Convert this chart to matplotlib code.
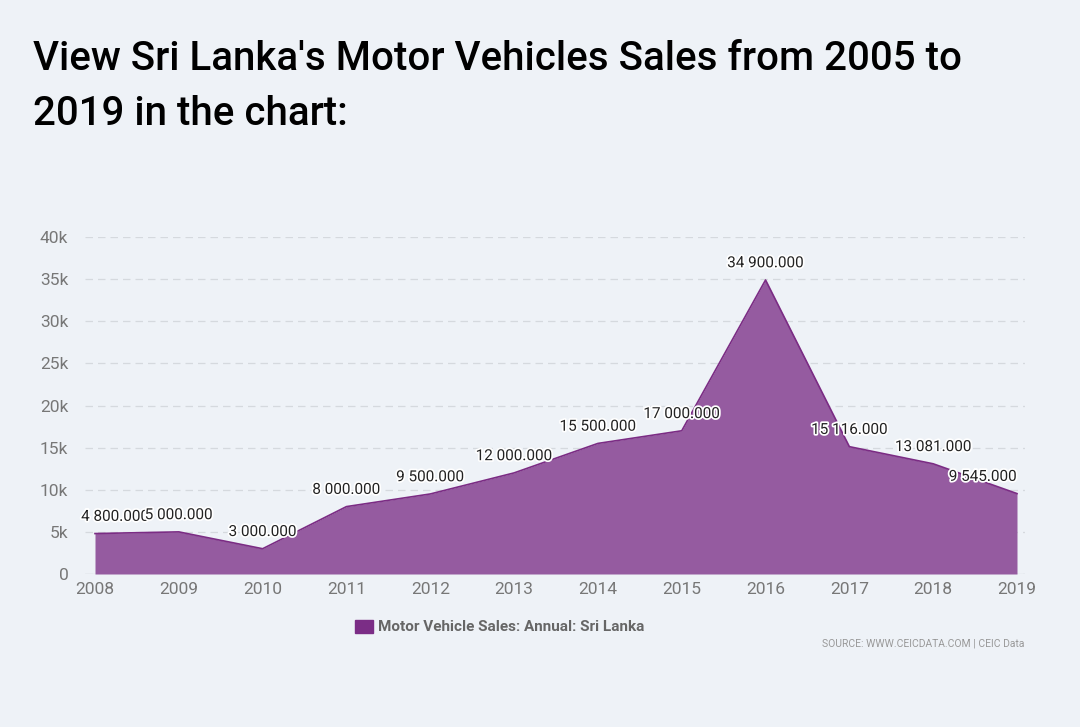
import matplotlib
matplotlib.use("Agg")
import matplotlib.pyplot as plt
import matplotlib.patheffects as pe
import numpy as np

plt.rcParams['font.family'] = ['Roboto', 'DejaVu Sans']

# data
years = [2008, 2009, 2010, 2011, 2012, 2013, 2014, 2015, 2016, 2017, 2018, 2019]
sales = [4800, 5000, 3000, 8000, 9500, 12000, 15500, 17000, 34900, 15116, 13081, 9545]
labels = ['4 800.000', '5 000.000', '3 000.000', '8 000.000', '9 500.000', '12 000.000',
          '15 500.000', '17 000.000', '34 900.000', '15 116.000', '13 081.000', '9 545.000']
yticks = [0, 5000, 10000, 15000, 20000, 25000, 30000, 35000, 40000]
ytick_labels = ['0', '5k', '10k', '15k', '20k', '25k', '30k', '35k', '40k']

bg = '#eef2f7'
fig = plt.figure(figsize=(10.8, 7.27), dpi=100, facecolor=bg)
ax = fig.add_axes([85/1080, 1 - 574/727, (1025 - 85)/1080, (574 - 237)/727])
ax.set_facecolor(bg)

ax.fill_between(years, sales, 0, color='#955ba0', lw=0, zorder=2)
ax.plot(years, sales, color='#7b2c84', lw=1.2, zorder=3)

px_year = (1017 - 95) / 11
ax.set_xlim(2008 - 10/px_year, 2019 + 8/px_year)
ax.set_ylim(0, 40000)
ax.set_yticks(yticks)
ax.set_yticklabels(ytick_labels)
ax.set_xticks(years)
ax.grid(axis='y', color='#d5d9de', ls=(0, (6, 4)), lw=0.9, zorder=1)
for s in ax.spines.values():
    s.set_visible(False)
ax.axhline(0, color='#d5d9de', lw=0.9, zorder=1)
ax.tick_params(axis='both', length=0, labelsize=12.5, colors='#777777')
ax.tick_params(axis='y', pad=12)
ax.tick_params(axis='x', pad=6)

halo = [pe.withStroke(linewidth=2.5, foreground='white')]
for i, (x, y, t) in enumerate(zip(years, sales, labels)):
    if i == 0:
        ha, dx = 'left', -10
    elif i == len(years) - 1:
        ha, dx = 'right', 0
    else:
        ha, dx = 'center', 0
    ax.annotate(t, (x, y), xytext=(dx, 7), textcoords='offset points', ha=ha, va='bottom',
                fontsize=11, color='#222222', path_effects=halo, zorder=5)

fig.text(33/1080, 1 - 70/727, "View Sri Lanka's Motor Vehicles Sales from 2005 to",
         fontsize=29, fontweight='medium', color='black', va='baseline')
fig.text(33/1080, 1 - 125/727, "2019 in the chart:",
         fontsize=29, fontweight='medium', color='black', va='baseline')

# legend
fig.patches.append(plt.Rectangle((355/1080, 1 - 633/727), 18/1080, 13/727,
                                 transform=fig.transFigure, color='#7b2d86'))
fig.text(378/1080, 1 - 627/727, 'Motor Vehicle Sales: Annual: Sri Lanka',
         fontsize=11, fontweight='bold', color='#666666', va='center')
fig.text(1025/1080, 1 - 644/727, 'SOURCE: WWW.CEICDATA.COM | CEIC Data',
         fontsize=7.5, color='#999999', ha='right', va='center')

fig.savefig('out.png', dpi=100, facecolor=bg)
